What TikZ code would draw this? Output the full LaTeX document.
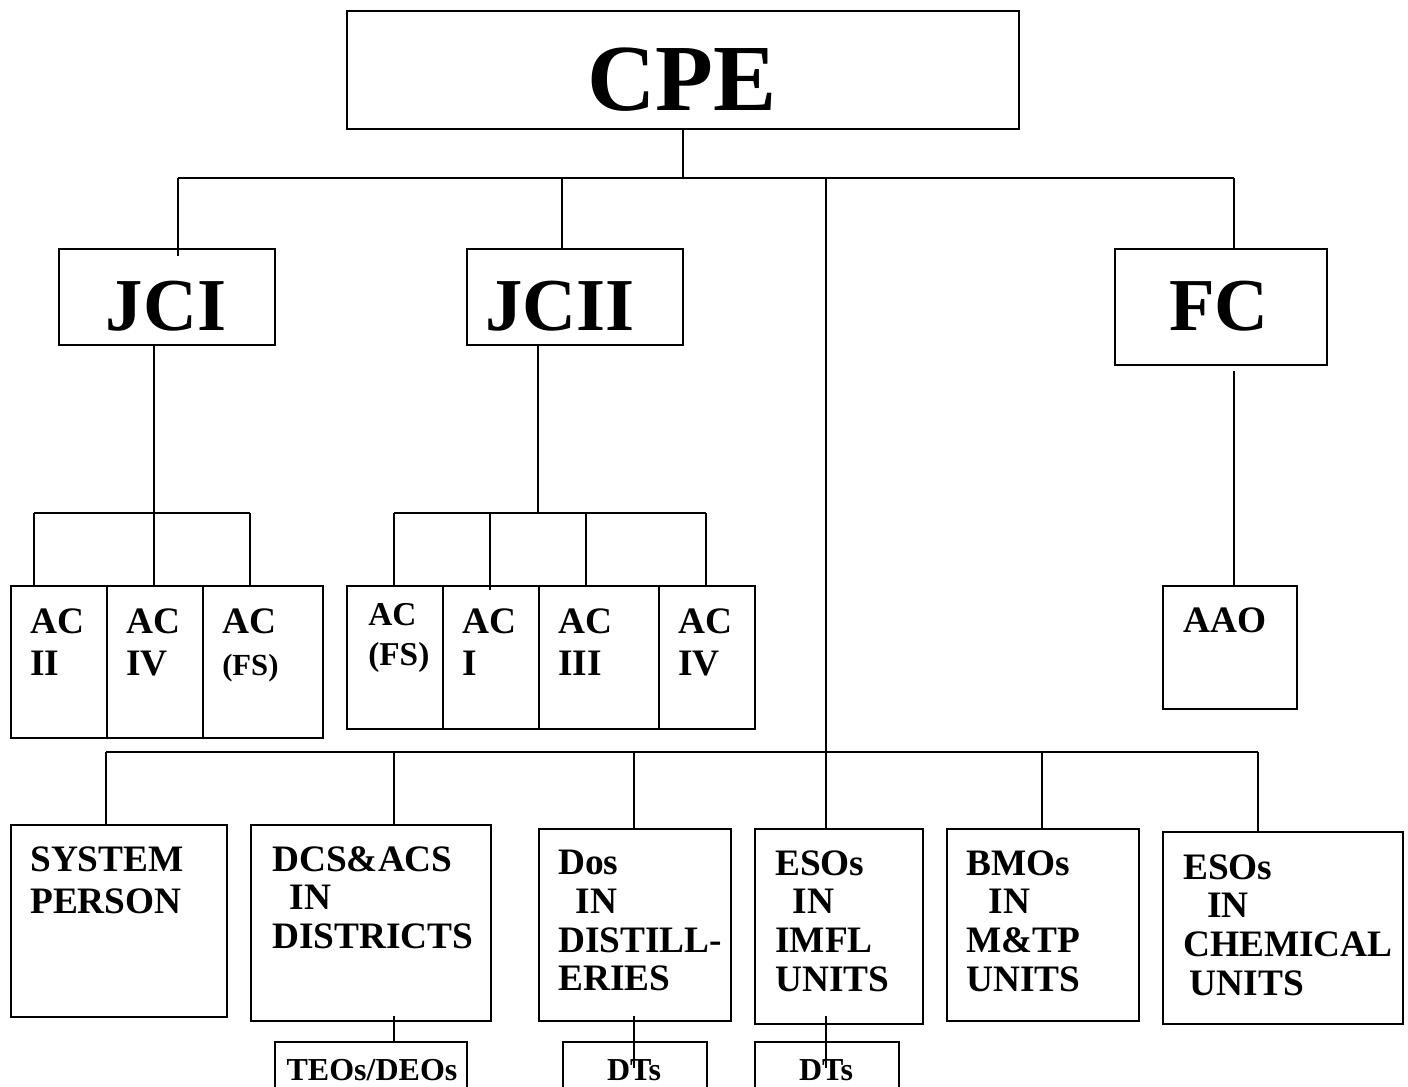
\documentclass[tikz,border=0pt]{standalone}
\usepackage{fontspec}
\setmainfont{Liberation Serif}
\usetikzlibrary{positioning}

\tikzset{
  box/.style={draw, line width=1.5pt, anchor=north west, inner sep=0pt},
  wire/.style={line width=1.2pt},
  big/.style={font=\bfseries\fontsize{56}{60}\selectfont, anchor=base, inner sep=0pt},
  txt/.style={font=\bfseries\fontsize{28}{29}\selectfont, align=left, anchor=north west, inner sep=0pt},
  actxt/.style={txt, font=\bfseries\fontsize{28}{32}\selectfont},
  subtxt/.style={txt, anchor=north, font=\bfseries\fontsize{24}{28}\selectfont},
}

\begin{document}
\begin{tikzpicture}[x=0.75pt, y=-0.75pt]
\fill[white] (0,0) rectangle (1408,1086);
\useasboundingbox (0,0) rectangle (1408,1086);

% top level
\node[box, minimum width=504pt, minimum height=88.5pt] (cpe) at (346,10) {};
\node[big, font=\bfseries\fontsize{71}{75}\selectfont] (cpet) at (682,110) {CPE};

\node[box, minimum width=162pt, minimum height=72pt] (jci) at (58,248) {};
\node[big] (jcit) at (166,330) {JCI};
\node[box, minimum width=162pt, minimum height=72pt] (jcii) at (466,248) {};
\node[big] (jciit) at (560,330) {JCII};
\node[box, minimum width=159pt, minimum height=87pt] (fc) at (1114,248) {};
\node[big] (fct) at (1219,330) {FC};

% bus lines
\coordinate (b1l) at (178,178);
\coordinate (b1j) at (562,178);
\coordinate (b1c) at (826,178);
\coordinate (b1r) at (1234,178);
\draw[wire] (cpe.south) -- (cpe.south |- b1l);
\draw[line width=1.7pt] (b1l) -- (b1r);
\draw[wire] (b1l) -- ([yshift=-6pt]b1l |- jci.north);
\draw[wire] (b1j) -- (b1j |- jcii.north);
\draw[wire] (b1r) -- (b1r |- fc.north);

% under JCI
\node[box, minimum width=72pt, minimum height=114pt] (ac2) at (10,585) {};
\node[box, minimum width=72pt, minimum height=114pt] (ac4a) at (106,585) {};
\node[box, minimum width=90pt, minimum height=114pt] (acfsa) at (202,585) {};
\node[actxt] (ac2t) at (30,608) {AC\\II};
\node[actxt] (ac4at) at (126,608) {AC\\IV};
\node[actxt] (acfsat) at (222,608) {AC\\{\fontsize{23}{26}\selectfont (FS)}};

\coordinate (j1) at (154,513);
\coordinate (b2l) at (34,513);
\coordinate (b2m) at (154,513);
\coordinate (b2r) at (250,513);
\draw[wire] (j1 |- jci.south) -- (j1);
\draw[wire] (b2l) -- (b2r);
\draw[wire] (b2l) -- (b2l |- ac2.north);
\draw[wire] (b2m) -- (b2m |- ac4a.north);
\draw[wire] (b2r) -- (b2r |- acfsa.north);

% under JCII
\node[box, minimum width=72pt, minimum height=107.25pt] (acfsb) at (346,585) {};
\node[box, minimum width=72pt, minimum height=107.25pt] (ac1) at (442,585) {};
\node[box, minimum width=90pt, minimum height=107.25pt] (ac3) at (538,585) {};
\node[box, minimum width=72pt, minimum height=107.25pt] (ac4b) at (658,585) {};
\node[txt, font=\bfseries\fontsize{25}{30}\selectfont] (acfsbt) at (368,603) {AC\\(FS)};
\node[actxt] (ac1t) at (462,608) {AC\\I};
\node[actxt] (ac3t) at (558,608) {AC\\III};
\node[actxt] (ac4bt) at (678,608) {AC\\IV};

\coordinate (j2) at (538,513);
\coordinate (b3a) at (394,513);
\coordinate (b3b) at (490,513);
\coordinate (b3c) at (586,513);
\coordinate (b3d) at (706,513);
\draw[wire] (j2 |- jcii.south) -- (j2);
\draw[wire] (b3a) -- (b3d);
\draw[wire] (b3a) -- (b3a |- acfsb.north);
\draw[wire] (b3b) -- ([yshift=-4pt]b3b |- ac1.north);
\draw[wire] (b3c) -- (b3c |- ac3.north);
\draw[wire] (b3d) -- (b3d |- ac4b.north);

% under FC
\node[box, minimum width=100.5pt, minimum height=92.25pt] (aao) at (1162,585) {};
\node[txt] (aaot) at (1183,607) {AAO};
\draw[wire] ([yshift=-4pt]b1r |- fc.south) -- (b1r |- aao.north);

% bottom row
\node[box, minimum width=162pt, minimum height=144pt] (sys) at (10,824) {};
\node[box, minimum width=180pt, minimum height=147pt] (dcs) at (250,824) {};
\node[box, minimum width=144pt, minimum height=144pt] (dos) at (538,828) {};
\node[box, minimum width=126pt, minimum height=146.25pt] (esoi) at (754,828) {};
\node[box, minimum width=144pt, minimum height=144pt] (bmo) at (946,828) {};
\node[box, minimum width=180pt, minimum height=144pt] (esoc) at (1162,831) {};
\node[actxt] (syst) at (30,846) {SYSTEM\\PERSON};
\node[txt] (dcst) at (272,846) {DCS\&ACS\\\hspace*{13pt}IN\\DISTRICTS};
\node[txt] (dost) at (558,850) {Dos\\\hspace*{13pt}IN\\DISTILL-\\ERIES};
\node[txt] (esoit) at (775,850) {ESOs\\\hspace*{13pt}IN\\IMFL\\UNITS};
\node[txt] (bmot) at (966,850) {BMOs\\\hspace*{17pt}IN\\M\&TP\\UNITS};
\node[txt] (esoct) at (1183,854) {ESOs\\\hspace*{18pt}IN\\CHEMICAL\\\hspace*{5pt}UNITS};

\coordinate (b4c) at (826,752);
\coordinate (b4l) at (106,752);
\coordinate (b4r) at (1258,752);
\draw[wire] (b1c) -- (b4c);
\draw[wire] (b4l) -- (b4r);
\foreach \n/\x in {sys/106, dcs/394, dos/634, esoi/826, bmo/1042, esoc/1258}
  \draw[wire] (\x,752) -- (\x,752 |- \n.north);

% sub boxes
\node[box, minimum width=144pt, minimum height=60pt] (teo) at (274,1041) {};
\node[box, minimum width=108pt, minimum height=60pt] (dt1) at (562,1041) {};
\node[box, minimum width=108pt, minimum height=60pt] (dt2) at (754,1041) {};
\node[subtxt] (teot) at (372,1059) {TEOs/DEOs};
\node[subtxt] (dt1t) at (634,1059) {DTs};
\node[subtxt] (dt2t) at (826,1059) {DTs};
\coordinate (e1) at (634,1068);
\coordinate (e2) at (826,1068);
\draw[wire] (394,1016) -- (394,1016 |- teo.north);
\draw[wire] (634,1016) -- (e1);
\draw[wire] (826,1016) -- (e2);
\end{tikzpicture}
\end{document}
